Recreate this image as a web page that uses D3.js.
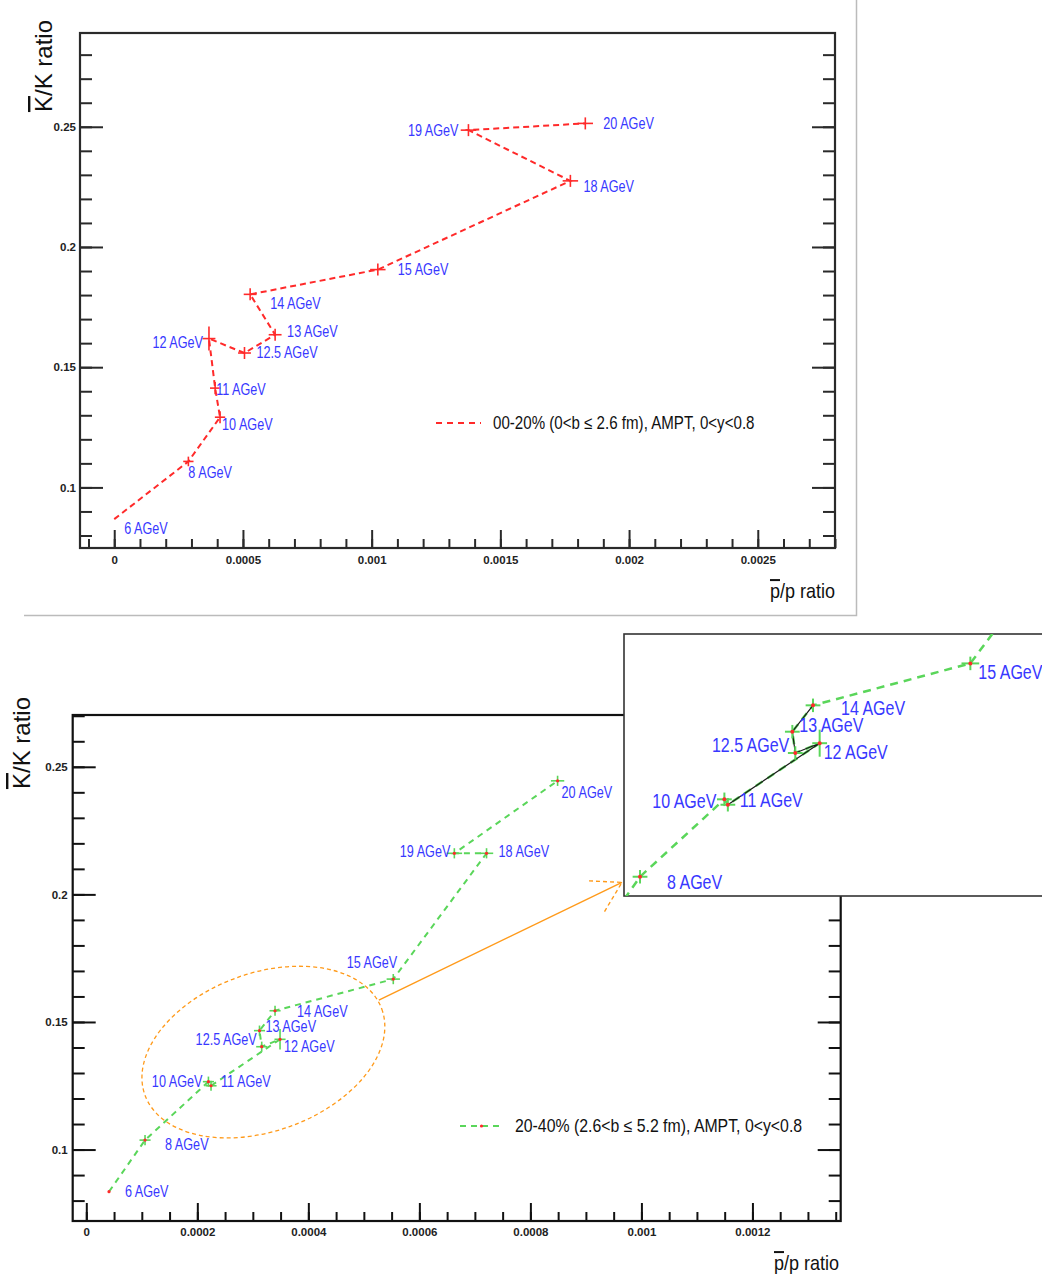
<!DOCTYPE html>
<html>
<head>
<meta charset="utf-8">
<script src="https://cdn.jsdelivr.net/npm/d3@7"></script>
<style>
  body { margin: 0; background: #fff; }
  svg { display: block; font-family: "Liberation Sans", Arial, Helvetica, sans-serif; }
  .ol { text-decoration: overline; }
</style>
</head>
<body>
<svg id="chart" width="1042" height="1276"></svg>
<script>
// beam energies, in the order the graph points are joined
const energies = ["6", "8", "10", "11", "12", "12.5", "13", "14", "15", "18", "19", "20"];

// 00-20% central (top panel)
const central_pbarP = [0, 0.000288, 0.000411, 0.000392, 0.000368, 0.000506, 0.000625, 0.000528, 0.001024, 0.001772, 0.001376, 0.00183];
const central_kRatio = [0.0868, 0.1108, 0.1292, 0.1413, 0.1619, 0.1559, 0.1635, 0.1803, 0.1906, 0.2275, 0.2486, 0.2514];
const central_pbarErr = [0, 0.00002, 0.00002, 0.00002, 0.000025, 0.000025, 0.000025, 0.000025, 0.00003, 0.00003, 0.00003, 0.00003];
const central_kErr = [0, 0.002, 0.0025, 0.0025, 0.005, 0.0025, 0.0025, 0.0025, 0.0025, 0.0025, 0.0025, 0.0025];

// 20-40% (bottom panel)
const mid_pbarP = [0.0000409, 0.0001058, 0.00022, 0.0002247, 0.000349, 0.000316, 0.000312, 0.00034, 0.000553, 0.000721, 0.000663, 0.000849];
const mid_kRatio = [0.0835, 0.1037, 0.1266, 0.125, 0.1432, 0.1403, 0.1466, 0.1544, 0.1668, 0.2161, 0.2161, 0.2445];
const mid_pbarErr = [0, 0.00001, 0.00001, 0.00001, 0.00001, 0.00001, 0.00001, 0.00001, 0.000012, 0.000012, 0.000014, 0.000012];
const mid_kErr = [0, 0.002, 0.002, 0.002, 0.004, 0.002, 0.002, 0.002, 0.002, 0.002, 0.002, 0.002];

// ticks
const top_xTicks = [0, 0.0005, 0.001, 0.0015, 0.002, 0.0025];
const top_xTickLabels = ["0", "0.0005", "0.001", "0.0015", "0.002", "0.0025"];
const bot_xTicks = [0, 0.0002, 0.0004, 0.0006, 0.0008, 0.001, 0.0012];
const bot_xTickLabels = ["0", "0.0002", "0.0004", "0.0006", "0.0008", "0.001", "0.0012"];
const yTicks = [0.1, 0.15, 0.2, 0.25];
const yTickLabels = ["0.1", "0.15", "0.2", "0.25"];

const legendTop = "00-20% (0<b \u2264 2.6 fm), AMPT, 0<y<0.8";
const legendBot = "20-40% (2.6<b \u2264 5.2 fm), AMPT, 0<y<0.8";

// points repeated in the zoomed box, and the black trace drawn on it
const insetEnergies = ["8", "10", "11", "12", "12.5", "13", "14", "15"];
const insetTrace = ["11", "12", "12.5", "13", "14"];

// label placement next to each point: [dx, dy, anchor]
const topLabelPos = [[10, 9, "start"], [0, 11, "start"], [2, 7, "start"], [1, 1, "start"], [-6, 4, "end"], [12, -1, "start"],
  [12, -3, "start"], [20, 9, "start"], [20, 0, "start"], [13, 6, "start"], [-10, 0, "end"], [18, 0, "start"]];
const botLabelPos = [[16, 0, "start"], [20, 4, "start"], [-6, 0, "end"], [10, -4, "start"], [4, 7, "start"], [-5, -7, "end"],
  [6, -4, "start"], [22, 1, "start"], [4, -17, "end"], [12, -2, "start"], [-4, -2, "end"], [4, 12, "start"]];
const insetLabelPos = {"8": [27, 5, "start"], "10": [-8, 2, "end"], "11": [12, -5, "start"], "12": [4, 9, "start"],
  "12.5": [-6, -8, "end"], "13": [7, -7, "start"], "14": [28, 3, "start"], "15": [8, 9, "start"]};

const RED = "#ff2a2a", GREEN = "#5ad65a", BLUE = "#3838ff", ORANGE = "#ff9a1a";

const svg = d3.select("#chart");
svg.append("rect").attr("width", 1042).attr("height", 1276).attr("fill", "#fff");

function squeeze(sel, x, y, sx) {
  return sel.attr("transform", `translate(${x},${y}) scale(${sx},1)`);
}

function minorRange(lo, hi, step) {
  return d3.range(Math.ceil(lo / step - 1e-9), Math.floor(hi / step + 1e-9) + 1).map(i => +(i * step).toFixed(8));
}

function drawAxes(g, x, y, opt) {
  const [x0, x1] = x.range(), [y0, y1] = y.range();
  const yMinor = minorRange(y.domain()[0], y.domain()[1], 0.01);

  // minor and major ticks each get their own group, otherwise the second call wipes the first
  const axisGroup = (tx, ty) => g.append("g").attr("transform", `translate(${tx},${ty})`);
  axisGroup(0, y0).call(d3.axisBottom(x).tickValues(minorRange(x.domain()[0], x.domain()[1], opt.xMinor)).tickFormat("").tickSize(-9));
  axisGroup(0, y0).call(d3.axisBottom(x).tickValues(opt.xTicks).tickFormat((d, i) => opt.xLabels[i]).tickSize(-18).tickPadding(opt.xPad));
  axisGroup(x0, 0).call(d3.axisLeft(y).tickValues(yMinor).tickFormat("").tickSize(-12));
  axisGroup(x0, 0).call(d3.axisLeft(y).tickValues(yTicks).tickFormat((d, i) => yTickLabels[i]).tickSize(-23).tickPadding(opt.yPad));
  axisGroup(x1, 0).call(d3.axisRight(y).tickValues(yMinor).tickFormat("").tickSize(-12));
  axisGroup(x1, 0).call(d3.axisRight(y).tickValues(yTicks).tickFormat("").tickSize(-23));

  g.selectAll(".domain").remove();
  g.selectAll("g").attr("font-family", null).attr("font-size", null);
  g.selectAll(".tick line").attr("stroke", opt.frame).attr("stroke-width", 2);
  g.selectAll(".tick text").attr("font-size", 11.5).attr("font-weight", "bold").attr("fill", "#222");

  g.append("rect")
    .attr("x", x0).attr("y", y1).attr("width", x1 - x0).attr("height", y0 - y1)
    .attr("fill", "none").attr("stroke", opt.frame).attr("stroke-width", 2.2);
}

function axisTitles(g, xTitleX, xTitleY, yTitleX, yTitleY) {
  const t = g.append("text").attr("font-size", 20).attr("text-anchor", "end").attr("fill", "#111");
  squeeze(t, xTitleX, xTitleY, 0.9);
  t.append("tspan").attr("class", "ol").text("p");
  t.append("tspan").text("/p ratio");

  const yt = g.append("text").attr("font-size", 24).attr("text-anchor", "end").attr("fill", "#111")
    .attr("transform", `translate(${yTitleX},${yTitleY}) rotate(-90)`);
  yt.append("tspan").attr("class", "ol").text("K");
  yt.append("tspan").text("/K ratio");
}

function drawSeries(g, x, y, pts, o) {
  const line = d3.line().x(d => x(d.px)).y(d => y(d.ky));
  g.append("path").datum(pts).attr("d", line)
    .attr("fill", "none").attr("stroke", o.color).attr("stroke-width", o.lw).attr("stroke-dasharray", o.dash);

  const marks = g.append("g").selectAll("g").data(pts).join("g");
  marks.append("line")
    .attr("x1", d => x(d.px - d.ex)).attr("x2", d => x(d.px + d.ex))
    .attr("y1", d => y(d.ky)).attr("y2", d => y(d.ky))
    .attr("stroke", o.color).attr("stroke-width", o.ew);
  marks.append("line")
    .attr("x1", d => x(d.px)).attr("x2", d => x(d.px))
    .attr("y1", d => y(d.ky - d.ey)).attr("y2", d => y(d.ky + d.ey))
    .attr("stroke", o.color).attr("stroke-width", o.ew);
  if (o.dot) {
    marks.append("circle").attr("cx", d => x(d.px)).attr("cy", d => y(d.ky))
      .attr("r", o.dotR).attr("fill", RED);
  }

  g.append("g").selectAll("text").data(pts).join("text")
    .attr("font-size", o.fs).attr("fill", BLUE).attr("dy", "0.35em")
    .attr("text-anchor", d => d.lab[2])
    .attr("transform", d => `translate(${x(d.px) + d.lab[0]},${y(d.ky) + d.lab[1]}) scale(${o.sx},1)`)
    .text(d => d.e + " AGeV");
}

function legend(g, x0, x1, yy, color, dot, label, tx, sx) {
  g.append("line").attr("x1", x0).attr("x2", x1).attr("y1", yy).attr("y2", yy)
    .attr("stroke", color).attr("stroke-width", 2.2).attr("stroke-dasharray", "6,5");
  if (dot) g.append("circle").attr("cx", (x0 + x1) / 2).attr("cy", yy).attr("r", 1.6).attr("fill", RED);
  const t = g.append("text").attr("font-size", 18).attr("fill", "#111").attr("dy", "0.35em").text(label);
  squeeze(t, tx, yy, sx);
}

// ---------- top panel: 00-20% ----------
const topPanel = svg.append("g");
topPanel.append("path").attr("d", "M856.5,0 V615.5 H24").attr("fill", "none").attr("stroke", "#bbb").attr("stroke-width", 1.5);

const xTop = d3.scaleLinear().domain([-0.000133, 0.0028]).range([80, 835]);
const yTop = d3.scaleLinear().domain([0.0748, 0.289]).range([548, 33]);

drawAxes(topPanel, xTop, yTop, {xTicks: top_xTicks, xLabels: top_xTickLabels, xMinor: 0.0001, xPad: 8, yPad: 4, frame: "#2a2a2a"});
axisTitles(topPanel, 835, 598, 52, 20);

const topPts = energies.map((e, i) => ({
  e, px: central_pbarP[i], ky: central_kRatio[i], ex: central_pbarErr[i], ey: central_kErr[i], lab: topLabelPos[i]
}));
drawSeries(topPanel, xTop, yTop, topPts, {color: RED, lw: 2, dash: "6,4", ew: 1.6, dot: false, fs: 16, sx: 0.79});
legend(topPanel, 436, 481, 423, RED, false, legendTop, 493, 0.84);

// ---------- bottom panel: 20-40% ----------
const botPanel = svg.append("g");
const xBot = d3.scaleLinear().domain([-0.0000245, 0.001359]).range([72.7, 840.7]);
const yBot = d3.scaleLinear().domain([0.072, 0.2703]).range([1221, 715]);

drawAxes(botPanel, xBot, yBot, {xTicks: bot_xTicks, xLabels: bot_xTickLabels, xMinor: 0.00005, xPad: 7, yPad: 5, frame: "#111"});
axisTitles(botPanel, 839, 1270, 30, 697);

const botPts = energies.map((e, i) => ({
  e, px: mid_pbarP[i], ky: mid_kRatio[i], ex: mid_pbarErr[i], ey: mid_kErr[i], lab: botLabelPos[i]
}));
drawSeries(botPanel, xBot, yBot, botPts, {color: GREEN, lw: 2, dash: "6,5", ew: 1.6, dot: true, dotR: 1.6, fs: 16, sx: 0.79});
legend(botPanel, 460, 503, 1126, GREEN, true, legendBot, 515, 0.88);

// orange ellipse around the crowded 10-14 AGeV points, with arrow to the zoom box
const ellCenter = [0.000319, 0.1382];
const arrowFrom = [0.000527, 0.1586], arrowTo = [0.000965, 0.2047];
botPanel.append("ellipse")
  .attr("transform", `translate(${xBot(ellCenter[0])},${yBot(ellCenter[1])}) rotate(-20)`)
  .attr("rx", 126).attr("ry", 79)
  .attr("fill", "none").attr("stroke", ORANGE).attr("stroke-width", 1.3).attr("stroke-dasharray", "4,3");
const ax0 = xBot(arrowFrom[0]), ay0 = yBot(arrowFrom[1]), ax1 = xBot(arrowTo[0]), ay1 = yBot(arrowTo[1]);
botPanel.append("line").attr("x1", ax0).attr("y1", ay0).attr("x2", ax1).attr("y2", ay1)
  .attr("stroke", ORANGE).attr("stroke-width", 1.4);
botPanel.append("path")
  .attr("d", `M${ax1 - 33},${ay1 - 1.5} L${ax1},${ay1} L${ax1 - 18},${ay1 + 30}`)
  .attr("fill", "none").attr("stroke", ORANGE).attr("stroke-width", 1.4).attr("stroke-dasharray", "4,3");

// ---------- zoom box ----------
const inset = svg.append("g");
const ix = d3.scaleLinear().domain([0.0000841, 0.000650]).range([624, 1042]);
const iy = d3.scaleLinear().domain([0.0980, 0.1755]).range([896, 634]);
svg.append("defs").append("clipPath").attr("id", "insetClip")
  .append("rect").attr("x", 624).attr("y", 634).attr("width", 418).attr("height", 262);
inset.append("rect").attr("x", 624).attr("y", 634).attr("width", 430).attr("height", 262)
  .attr("fill", "#fff").attr("stroke", "#333").attr("stroke-width", 1.6);

const inner = inset.append("g").attr("clip-path", "url(#insetClip)");
const insetPts = botPts.map(d => Object.assign({}, d, {lab: insetLabelPos[d.e] || [0, 0, "start"]}));
inner.append("path").datum(insetPts).attr("d", d3.line().x(d => ix(d.px)).y(d => iy(d.ky)))
  .attr("fill", "none").attr("stroke", GREEN).attr("stroke-width", 2.5).attr("stroke-dasharray", "8,6");
const trace = insetTrace.map(e => insetPts.find(d => d.e === e));
inner.append("path").datum(trace).attr("d", d3.line().x(d => ix(d.px)).y(d => iy(d.ky)))
  .attr("fill", "none").attr("stroke", "#1a1a1a").attr("stroke-width", 1.2);

const shown = insetPts.filter(d => insetEnergies.includes(d.e));
const im = inner.append("g").selectAll("g").data(shown).join("g");
im.append("line").attr("x1", d => ix(d.px - d.ex)).attr("x2", d => ix(d.px + d.ex))
  .attr("y1", d => iy(d.ky)).attr("y2", d => iy(d.ky)).attr("stroke", GREEN).attr("stroke-width", 2);
im.append("line").attr("x1", d => ix(d.px)).attr("x2", d => ix(d.px))
  .attr("y1", d => iy(d.ky - d.ey)).attr("y2", d => iy(d.ky + d.ey)).attr("stroke", GREEN).attr("stroke-width", 2);
im.append("circle").attr("cx", d => ix(d.px)).attr("cy", d => iy(d.ky)).attr("r", 2).attr("fill", RED);
inner.append("g").selectAll("text").data(shown).join("text")
  .attr("font-size", 20).attr("fill", BLUE).attr("dy", "0.35em")
  .attr("text-anchor", d => d.lab[2])
  .attr("transform", d => `translate(${ix(d.px) + d.lab[0]},${iy(d.ky) + d.lab[1]}) scale(0.8,1)`)
  .text(d => d.e + " AGeV");
</script>
</body>
</html>
